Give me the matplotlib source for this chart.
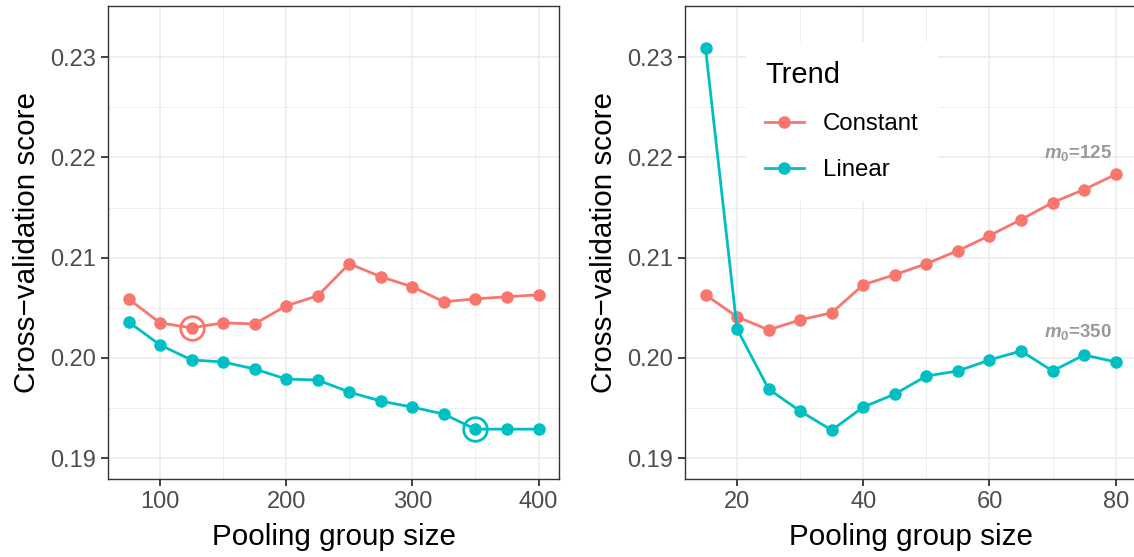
import matplotlib
matplotlib.use("Agg")
import matplotlib.pyplot as plt

# pooling group size vs cross-validation score
left_sizes = [75, 100, 125, 150, 175, 200, 225, 250, 275, 300, 325, 350, 375, 400]
left_constant = [0.2059, 0.2035, 0.2030, 0.2035, 0.2034, 0.2052, 0.2062, 0.2094,
                 0.2081, 0.2071, 0.2056, 0.2059, 0.2061, 0.2063]
left_linear = [0.2036, 0.2013, 0.1998, 0.1996, 0.1989, 0.1979, 0.1978, 0.1966,
               0.1957, 0.1951, 0.1944, 0.1929, 0.1929, 0.1929]

right_sizes = [15, 20, 25, 30, 35, 40, 45, 50, 55, 60, 65, 70, 75, 80]
right_constant = [0.2063, 0.2041, 0.2028, 0.2038, 0.2045, 0.2073, 0.2083, 0.2094,
                  0.2107, 0.2122, 0.2138, 0.2155, 0.2168, 0.2183]
right_linear = [0.2309, 0.2029, 0.1969, 0.1947, 0.1928, 0.1951, 0.1964, 0.1982,
                0.1987, 0.1998, 0.2007, 0.1987, 0.2003, 0.1996]

# chosen m0 for each trend
best_constant = 125
best_linear = 350
labels = ['Constant', 'Linear']
colors = ['#F8766D', '#00BFC4']

plt.rcParams['font.family'] = ['Liberation Sans', 'DejaVu Sans']
plt.rcParams['mathtext.fontset'] = 'custom'
plt.rcParams['mathtext.it'] = 'Liberation Sans:italic:bold'
plt.rcParams['mathtext.rm'] = 'Liberation Sans:bold'
plt.rcParams['mathtext.bf'] = 'Liberation Sans:bold'

W, H = 1134, 557
fig = plt.figure(figsize=(W / 100, H / 100), dpi=100)


def px_axes(x0, x1, y0, y1):
    return fig.add_axes([x0 / W, 1 - y1 / H, (x1 - x0) / W, (y1 - y0) / H])


ax1 = px_axes(108, 559, 6, 479.3)
ax2 = px_axes(685, 1136.5, 6, 479.3)


def style(ax, xlim, xmajor, xminor):
    ax.set_xlim(*xlim)
    ax.set_ylim(0.1879, 0.2351)
    ax.set_xticks(xmajor)
    ax.set_xticks(xminor, minor=True)
    ax.set_yticks([0.19, 0.20, 0.21, 0.22, 0.23])
    ax.set_yticks([0.195, 0.205, 0.215, 0.225], minor=True)
    ax.set_yticklabels(['0.19', '0.20', '0.21', '0.22', '0.23'])
    ax.grid(which='major', color='#EBEBEB', linewidth=1.1)
    ax.grid(which='minor', color='#EBEBEB', linewidth=0.55)
    ax.set_axisbelow(True)
    for s in ax.spines.values():
        s.set_color('#333333')
        s.set_linewidth(1.0)
    ax.tick_params(which='major', length=5.3, width=1.3, color='#333333',
                   labelsize=17, labelcolor='#4D4D4D', pad=3)
    ax.tick_params(which='minor', length=0)
    ax.set_xlabel('Pooling group size', fontsize=21.3, labelpad=7)
    ax.set_ylabel('Cross\u2212validation score', fontsize=21.3, labelpad=7)


style(ax1, (58.75, 416.25), [100, 200, 300, 400], [150, 250, 350])
style(ax2, (11.75, 83.3), [20, 40, 60, 80], [30, 50, 70])

ms = 8
lw = 2.0
for ax, xs, ycs in [(ax1, left_sizes, [left_constant, left_linear]),
                    (ax2, right_sizes, [right_constant, right_linear])]:
    for ys, c, lab in zip(ycs, colors, labels):
        ax.plot(xs, ys, color=c, linewidth=lw, marker='o', markersize=ms, label=lab)

# rings around the selected pooling group sizes
i_c = left_sizes.index(best_constant)
i_l = left_sizes.index(best_linear)
ax1.plot([best_constant], [left_constant[i_c]], marker='o', markersize=17,
         markerfacecolor='none', markeredgecolor=colors[0], markeredgewidth=2.0,
         linestyle='none')
ax1.plot([best_linear], [left_linear[i_l]], marker='o', markersize=17,
         markerfacecolor='none', markeredgecolor=colors[1], markeredgewidth=2.0,
         linestyle='none')

ax2.text(74, 0.2204, r'$m_{\mathit{0}}$=' + str(best_constant), color='#999999',
         fontsize=13.5, fontweight='bold', ha='center', va='center')
ax2.text(74, 0.2026, r'$m_{\mathit{0}}$=' + str(best_linear), color='#999999',
         fontsize=13.5, fontweight='bold', ha='center', va='center')

leg = ax2.legend(title='Trend', loc='upper left',
                 bbox_to_anchor=(746 / W, 1 - 42 / H), bbox_transform=fig.transFigure,
                 fontsize=17.3, title_fontsize=21, frameon=True, fancybox=False,
                 edgecolor='none', facecolor='white', framealpha=1,
                 handlelength=1.6, handletextpad=0.8, labelspacing=1.0,
                 borderpad=0.8, borderaxespad=0)
leg._legend_box.align = 'left'

fig.savefig('out.png', dpi=100)
